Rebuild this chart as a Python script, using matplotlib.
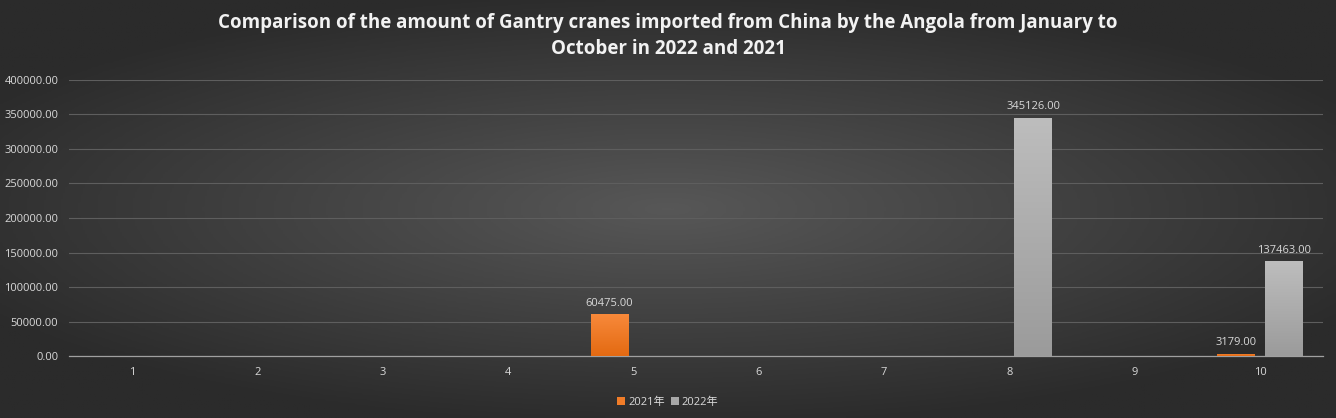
import matplotlib
matplotlib.use('Agg')
import matplotlib.pyplot as plt
import numpy as np

# datos
meses = ['1', '2', '3', '4', '5', '6', '7', '8', '9', '10']
valores_2021 = [0, 0, 0, 0, 60475.00, 0, 0, 0, 0, 3179.00]
valores_2022 = [0, 0, 0, 0, 0, 0, 0, 345126.00, 0, 137463.00]
series = ['2021年', '2022年']

plt.rcParams['font.family'] = ['Open Sans', 'Noto Sans CJK SC', 'DejaVu Sans']

fig = plt.figure(figsize=(13.36, 4.18), dpi=100)

# fondo con degradado radial
bg = fig.add_axes([0, 0, 1, 1], zorder=-10)
yy, xx = np.mgrid[-1:1:200j, -1:1:600j]
r = np.sqrt((xx * 0.85) ** 2 + (yy * 0.95) ** 2)
r = np.clip(r, 0, 1)
bg.imshow(r, cmap=matplotlib.colors.LinearSegmentedColormap.from_list(
    'fondo', ['#575757', '#2b2b2b']), aspect='auto', extent=[0, 1, 0, 1])
bg.axis('off')

ax = fig.add_axes([0.052, 0.148, 0.938, 0.661])
ax.patch.set_alpha(0)

x = np.arange(len(meses))
ancho = 0.30
desp = 0.19

b1 = ax.bar(x - desp, valores_2021, ancho, color='#f07c28', label=series[0], zorder=3)
b2 = ax.bar(x + desp, valores_2022, ancho, color='#a8a8a8', label=series[1], zorder=3)

# degradado vertical dentro de las barras
def degradar(barras, c_arriba, c_abajo):
    cmap = matplotlib.colors.LinearSegmentedColormap.from_list('g', [c_abajo, c_arriba])
    grad = np.linspace(0, 1, 100).reshape(-1, 1)
    for b in barras:
        h = b.get_height()
        if h <= 0:
            continue
        x0 = b.get_x()
        w = b.get_width()
        im = ax.imshow(grad, cmap=cmap, aspect='auto', origin='lower',
                       extent=[x0, x0 + w, 0, h], zorder=3)
        im.set_clip_path(b)

degradar(b1, '#f8893a', '#e36a12')
degradar(b2, '#bdbdbd', '#9b9b9b')

for barras, vals in ((b1, valores_2021), (b2, valores_2022)):
    for b, v in zip(barras, vals):
        if v > 0:
            ax.text(b.get_x() + b.get_width() / 2, v + 8000, f'{v:.2f}',
                    ha='center', va='bottom', color='#d9d9d9', fontsize=8)

ax.set_xlim(-0.5, len(meses) - 0.5)
ax.set_ylim(0, 400000)
ax.set_yticks(np.arange(0, 400001, 50000))
ax.set_yticklabels([f'{v:.2f}' for v in np.arange(0, 400001, 50000)])
ax.set_xticks(x)
ax.set_xticklabels(meses)
ax.tick_params(colors='#d9d9d9', labelsize=8, length=0, pad=8)
ax.yaxis.grid(True, color='#5e5e5e', linewidth=0.8, zorder=0)
for lado in ['top', 'right', 'left']:
    ax.spines[lado].set_visible(False)
ax.spines['bottom'].set_color('#a0a0a0')
ax.spines['bottom'].set_linewidth(0.9)

fig.suptitle('Comparison of the amount of Gantry cranes imported from China by the Angola from January to\nOctober in 2022 and 2021',
             color='#f2f2f2', fontsize=13.5, fontweight='bold', y=0.97, linespacing=1.4)

leg = fig.legend(handles=[b1, b2], labels=series, loc='lower center', ncol=2,
                 bbox_to_anchor=(0.5, 0.0), frameon=False, fontsize=8,
                 labelcolor='#d9d9d9', handlelength=0.7, handleheight=0.7,
                 handletextpad=0.3, columnspacing=0.5)

fig.savefig('out.png', dpi=100)
